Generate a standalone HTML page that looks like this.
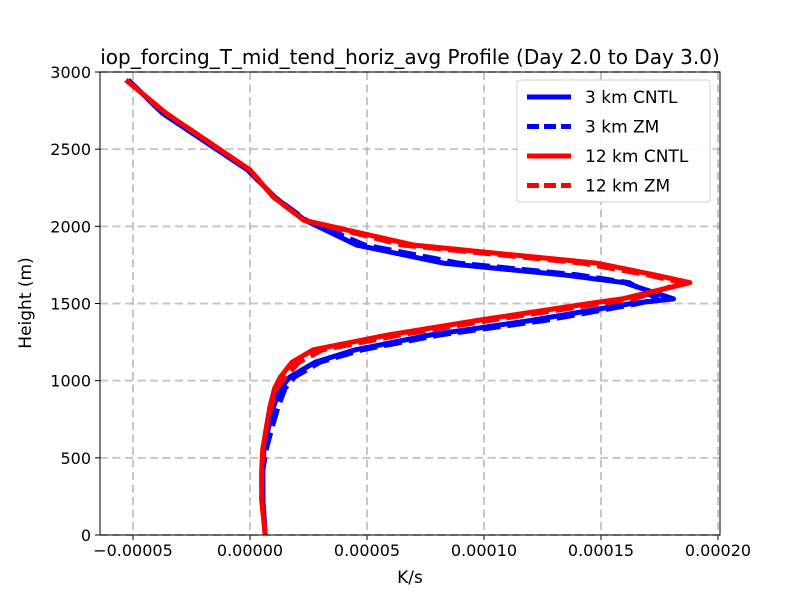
<!DOCTYPE html>
<html><head><meta charset="utf-8"><style>body{margin:0;background:#fff}svg{display:block;font-family:"DejaVu Sans","Liberation Sans",sans-serif}</style></head>
<body>
<svg id="chart" width="800" height="600"></svg>
<script>
const heights=[2948,2734,2365,2190,2040,1879,1762,1685,1635,1530,1500,1390,1296,1200,1120,1024,950,830,700,560,420,230,0];
const blueCntl=[-5.2,-3.75,-0.1,1.05,2.35,4.55,8.25,13.4,16.0,18.1,16.3,12.0,7.7,4.5,2.8,1.7,1.3,1.0,0.8,0.6,0.55,0.55,0.65];
const blueZm=[-5.2,-3.75,-0.1,1.05,2.4,4.9,8.9,14.0,16.2,17.4,16.6,12.6,8.1,4.8,3.0,1.9,1.5,1.2,0.95,0.7,0.55,0.55,0.65];
const redCntl=[-5.3,-3.6,0.0,1.0,2.3,6.97,14.8,17.3,18.8,15.9,14.5,9.7,5.9,2.7,1.8,1.3,1.05,0.85,0.7,0.55,0.5,0.5,0.65];
const redZm=[-5.3,-3.6,0.0,1.0,2.3,6.5,14.2,17.0,18.5,16.4,15.0,10.2,6.4,3.1,2.1,1.5,1.15,0.9,0.72,0.55,0.5,0.5,0.65];
const xTicks=[-0.00005,0,0.00005,0.0001,0.00015,0.0002];
const xTickLabels=["\u22120.00005","0.00000","0.00005","0.00010","0.00015","0.00020"];
const yTicks=[0,500,1000,1500,2000,2500,3000];
const L=100,R=720,T=72,B=535;
const xs=v=>250+v/0.00005*117;
const ys=v=>B-(v/3000)*(B-T);
const svg=document.getElementById('chart');
const NS='http://www.w3.org/2000/svg';
function mk(tag,attrs,parent){const e=document.createElementNS(NS,tag);for(const k in attrs)e.setAttribute(k,attrs[k]);(parent||svg).appendChild(e);return e;}
xTicks.forEach((t,i)=>{
 const g=mk('line',{x1:xs(t),x2:xs(t),y1:T,y2:B,stroke:'#b0b0b0','stroke-width':2,'stroke-dasharray':'8,4.5',opacity:0.7});
 
 
 const tk=mk('line',{x1:xs(t),x2:xs(t),y1:B,y2:B+5,stroke:'#000','stroke-width':1});
 
 
 const tx=mk('text',{x:xs(t),y:B+21,'text-anchor':'middle','font-size':16});
 tx.textContent=xTickLabels[i];
 
 
});
yTicks.forEach(t=>{
 const g=mk('line',{x1:L,x2:R,y1:ys(t),y2:ys(t),stroke:'#b0b0b0','stroke-width':2,'stroke-dasharray':'8,4.5',opacity:0.7});
 
 
 const tk=mk('line',{x1:L-5,x2:L,y1:ys(t),y2:ys(t),stroke:'#000','stroke-width':1});
 
 
 const tx=mk('text',{x:L-9,y:ys(t)+6,'text-anchor':'end','font-size':16});
 tx.textContent=String(t);
 
 
});
const clip=mk('clipPath',{id:'pc'});mk('rect',{x:L,y:T,width:R-L,height:B-T},clip);
function series(vals,color,dash,name){
 const d=vals.map((v,i)=>(i?'L':'M')+xs(v*1e-5).toFixed(1)+','+ys(heights[i]).toFixed(1)).join(' ');
 const p=mk('path',{d:d,fill:'none',stroke:color,'stroke-width':5,'stroke-linejoin':'round','stroke-dasharray':dash||'none','clip-path':'url(#pc)'});
 
 
}
series(blueCntl,'#0000ff',null,'series-3km-cntl');
series(blueZm,'#0000ff','18,7','series-3km-zm');
series(redCntl,'#ff0000',null,'series-12km-cntl');
series(redZm,'#ff0000','18,7','series-12km-zm');
const frame=mk('rect',{x:L,y:T,width:R-L,height:B-T,fill:'none',stroke:'#000','stroke-width':1});


const title=mk('text',{x:410,y:64,'text-anchor':'middle','font-size':20});
title.textContent='iop_forcing_T_mid_tend_horiz_avg Profile (Day 2.0 to Day 3.0)';


const xl=mk('text',{x:410,y:583,'text-anchor':'middle','font-size':17});
xl.textContent='K/s';


const yl=mk('text',{x:31,y:303,'text-anchor':'middle','font-size':17,transform:'rotate(-90 31 303)'});
yl.textContent='Height (m)';


const lg=mk('g',{});


mk('rect',{x:517,y:80,width:193,height:122,rx:3,fill:'#fff',stroke:'#ccc','stroke-width':1,opacity:0.9},lg);
const legendLabels=['3 km CNTL','3 km ZM','12 km CNTL','12 km ZM'];
const legendColors=['#0000ff','#0000ff','#ff0000','#ff0000'];
const legendDash=['none','12,5','none','12,5'];
legendLabels.forEach((lab,i)=>{
 const y=97+i*29.5;
 const ln=mk('line',{x1:527,x2:571,y1:y,y2:y,stroke:legendColors[i],'stroke-width':5,'stroke-dasharray':legendDash[i]},lg);
 
 
 const t=mk('text',{x:585,y:y+6,'font-size':17},lg);
 t.textContent=lab;
 
 
});
</script>
</body></html>
